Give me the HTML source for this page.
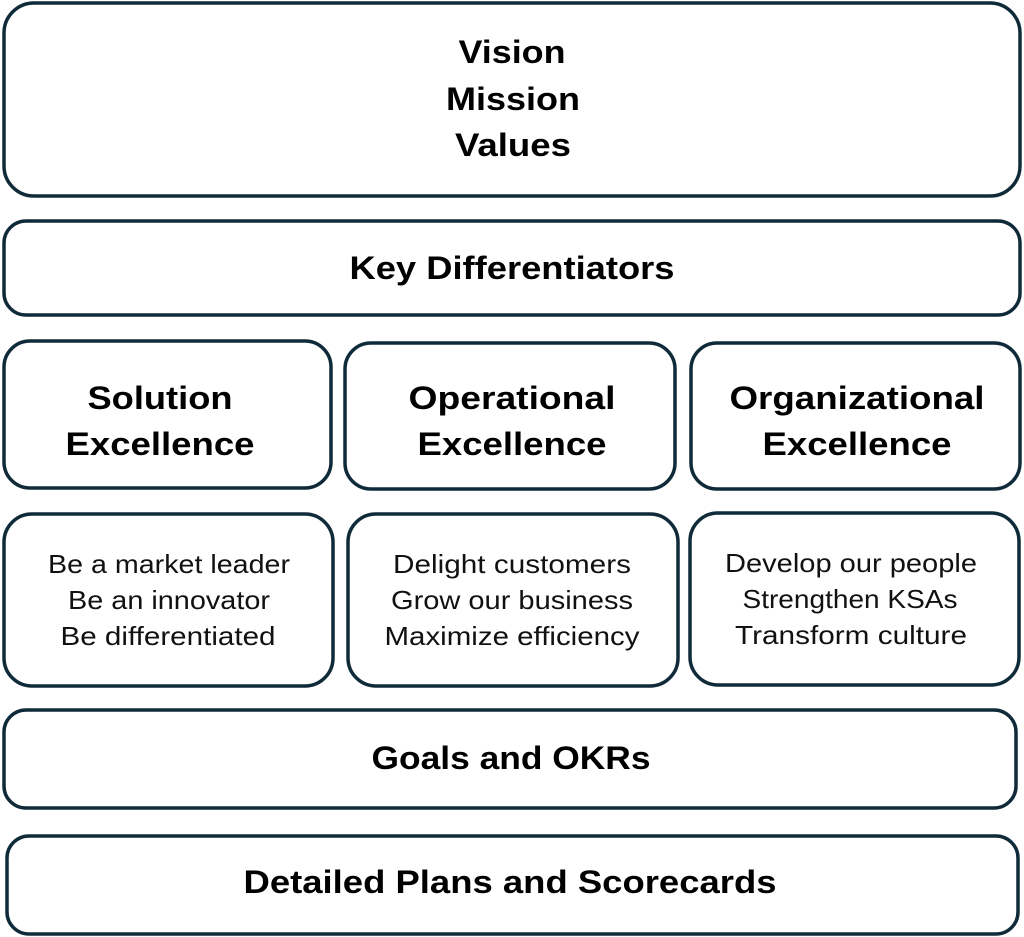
<!DOCTYPE html>
<html><head><meta charset="utf-8"><style>
html,body{margin:0;padding:0;background:#fff;}
svg{display:block}
.b{font-family:"Liberation Sans",sans-serif;font-weight:bold;font-size:32px;fill:#000;text-anchor:middle}
.n{font-family:"Liberation Sans",sans-serif;font-size:26px;fill:#111;text-anchor:middle}
rect{fill:#fff;stroke:#0f2a38;stroke-width:3.5}
</style></head><body>
<svg width="1024" height="937" xmlns="http://www.w3.org/2000/svg">
<rect x="4" y="3" width="1016" height="193" rx="30"/>
<text class="b" x="512" y="63" textLength="107" lengthAdjust="spacingAndGlyphs">Vision</text>
<text class="b" x="513" y="110" textLength="134" lengthAdjust="spacingAndGlyphs">Mission</text>
<text class="b" x="513" y="156" textLength="116" lengthAdjust="spacingAndGlyphs">Values</text>

<rect x="4" y="221" width="1016" height="94" rx="22"/>
<text class="b" x="512" y="279" textLength="325" lengthAdjust="spacingAndGlyphs">Key Differentiators</text>

<rect x="4" y="341" width="327" height="147" rx="26"/>
<rect x="345" y="343" width="330" height="146" rx="26"/>
<rect x="691" y="343" width="329" height="146" rx="26"/>
<text class="b" x="160" y="409" textLength="145" lengthAdjust="spacingAndGlyphs">Solution</text>
<text class="b" x="160" y="455" textLength="189" lengthAdjust="spacingAndGlyphs">Excellence</text>
<text class="b" x="512" y="409" textLength="207" lengthAdjust="spacingAndGlyphs">Operational</text>
<text class="b" x="512" y="455" textLength="189" lengthAdjust="spacingAndGlyphs">Excellence</text>
<text class="b" x="857" y="409" textLength="255" lengthAdjust="spacingAndGlyphs">Organizational</text>
<text class="b" x="857" y="455" textLength="189" lengthAdjust="spacingAndGlyphs">Excellence</text>

<rect x="4" y="514" width="329" height="172" rx="28"/>
<rect x="348" y="514" width="330" height="172" rx="28"/>
<rect x="690" y="513" width="329" height="172" rx="28"/>
<text class="n" x="169" y="573" textLength="242" lengthAdjust="spacingAndGlyphs">Be a market leader</text>
<text class="n" x="169" y="609" textLength="202" lengthAdjust="spacingAndGlyphs">Be an innovator</text>
<text class="n" x="168" y="645" textLength="215" lengthAdjust="spacingAndGlyphs">Be differentiated</text>
<text class="n" x="512" y="573" textLength="238" lengthAdjust="spacingAndGlyphs">Delight customers</text>
<text class="n" x="512" y="609" textLength="242" lengthAdjust="spacingAndGlyphs">Grow our business</text>
<text class="n" x="512" y="645" textLength="255" lengthAdjust="spacingAndGlyphs">Maximize efficiency</text>
<text class="n" x="851" y="572" textLength="252" lengthAdjust="spacingAndGlyphs">Develop our people</text>
<text class="n" x="850" y="608" textLength="215" lengthAdjust="spacingAndGlyphs">Strengthen KSAs</text>
<text class="n" x="851" y="644" textLength="232" lengthAdjust="spacingAndGlyphs">Transform culture</text>

<rect x="4" y="710" width="1012" height="98" rx="22"/>
<text class="b" x="511" y="769" textLength="279" lengthAdjust="spacingAndGlyphs">Goals and OKRs</text>

<rect x="7" y="836" width="1011" height="98" rx="22"/>
<text class="b" x="510" y="893" textLength="533" lengthAdjust="spacingAndGlyphs">Detailed Plans and Scorecards</text>
</svg>
</body></html>
